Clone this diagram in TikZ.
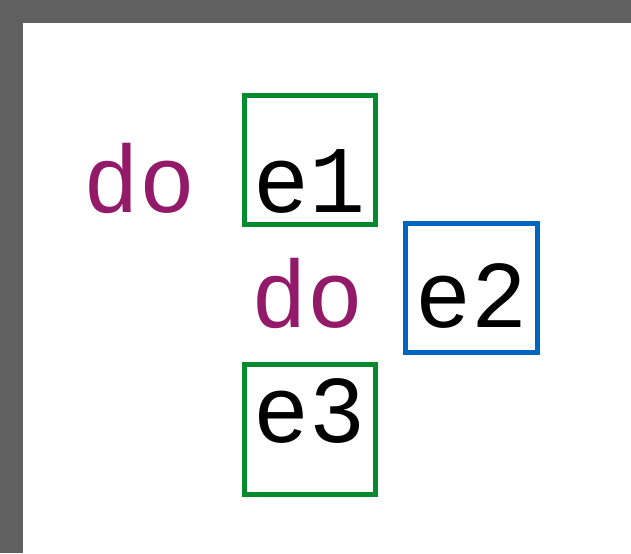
\documentclass[tikz,border=0pt]{standalone}
\usepackage{fontspec}
\setmainfont{Liberation Mono}[FakeStretch=0.975]
\usetikzlibrary{positioning}
\definecolor{kwpurple}{HTML}{921A69}
\definecolor{boxgreen}{HTML}{078A2E}
\definecolor{boxblue}{HTML}{0066C2}
\definecolor{framegray}{HTML}{606060}

\tikzset{
  kw/.style={text=kwpurple, anchor=base west, inner sep=0pt},
  expr/.style={draw=#1, line width=2.5pt, anchor=base, inner ysep=0pt,
    minimum width=65.7pt},
}

\begin{document}
\begin{tikzpicture}[x=0.5pt, y=-0.5pt, font=\fontsize{47.8}{56}\selectfont]
\fill[framegray] (0,0) rectangle (631,553);
\fill[white] (23,23) rectangle (631,553);
\node[kw] (do1) at (83.5,212.3) {do};
\node[expr=boxgreen, text height=58.4pt, text depth=6pt] (e1) at (309.8,212.3) {e1};
\node[kw] (do2) at (251.5,327) {do};
\node[expr=boxblue, text height=52pt, text depth=12.6pt] (e2) at (471.4,327) {e2};
\node[expr=boxgreen, text height=38.8pt, text depth=26pt] (e3) at (309.8,442) {e3};
\end{tikzpicture}
\end{document}
